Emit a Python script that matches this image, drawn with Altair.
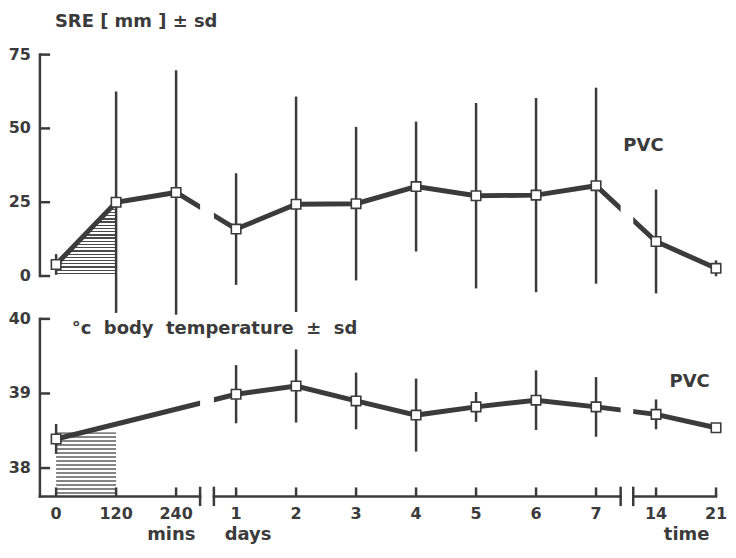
import altair as alt
import pandas as pd

# ---------------- data ----------------
time_labels = ["0", "120", "240", "1", "2", "3", "4", "5", "6", "7", "14", "21"]
sre_mean = [3.9, 25.0, 28.3, 15.9, 24.3, 24.5, 30.3, 27.2, 27.4, 30.6, 11.7, 2.6]
sre_sd = [3.5, 37.5, 41.4, 18.9, 36.5, 26.0, 22.0, 31.4, 32.9, 33.2, 17.6, 2.7]
temp_mean = [38.39, None, None, 38.99, 39.10, 38.90, 38.71, 38.82, 38.91, 38.82, 38.72, 38.54]
temp_sd = [0.20, None, None, 0.39, 0.49, 0.38, 0.49, 0.20, 0.40, 0.40, 0.20, 0.0]
sre_ticks = [0, 25, 50, 75]
temp_ticks = [38, 39, 40]
break_from = [2.40, 9.41]
break_to = [2.63, 9.62]
hatch_temp_top = 38.48

# ---------------- styling / layout constants ----------------
INK = "#3b3b3b"
FONT = "DejaVu Sans"
NB = "\u00a0"
X_MIN, X_MAX = -0.27, 11
SRE_DOM = [0, 75]
TEMP_DOM = [37.62, 40]
W = 678
H_TOP, H_BOT = 222, 178

positions = list(range(len(time_labels)))
df = pd.DataFrame({"pos": positions, "sre": sre_mean, "sd": sre_sd})
df["lo"] = df["sre"] - df["sd"]
df["hi"] = df["sre"] + df["sd"]

dft = pd.DataFrame({"pos": positions, "temp": temp_mean, "sd": temp_sd}).dropna()
dft["lo"] = dft["temp"] - dft["sd"]
dft["hi"] = dft["temp"] + dft["sd"]

seg_df = pd.DataFrame({"x": [X_MIN] + break_to, "x2": break_from + [X_MAX]})
brk_df = pd.DataFrame({"x": break_from, "x2": break_to})
brk_edges = pd.DataFrame({"x": break_from + break_to})
one = pd.DataFrame({"k": [0]})
pos_df = pd.DataFrame({"pos": positions, "label": time_labels})

xscale = alt.Scale(domain=[X_MIN, X_MAX], nice=False, zero=False)
ys_top = alt.Scale(domain=SRE_DOM, nice=False, zero=False)
ys_bot = alt.Scale(domain=TEMP_DOM, nice=False, zero=False)


def stripes(n, frac, ink):
    stops = []
    for i in range(n):
        a, b, c = i / n, (i + frac) / n, (i + 1) / n
        stops += [
            alt.GradientStop(offset=a, color=ink),
            alt.GradientStop(offset=b, color=ink),
            alt.GradientStop(offset=b, color="white"),
            alt.GradientStop(offset=min(c, 1.0), color="white"),
        ]
    return alt.Gradient(gradient="linear", stops=stops, x1=0, x2=0, y1=0, y2=1)


def xd(v):
    return alt.XDatum(datum=v, scale=xscale, axis=None)


def yd(v, sc):
    return alt.YDatum(datum=v, scale=sc, axis=None)


def xf(field="pos"):
    return alt.X(f"{field}:Q", scale=xscale, axis=None)


def yf(field, sc):
    return alt.Y(f"{field}:Q", scale=sc, axis=None)


def label(text, x, y, sc, align="left", size=18):
    return alt.Chart(pd.DataFrame({"t": [text]})).mark_text(
        font=FONT, fontWeight="bold", fontSize=size, color=INK,
        align=align, baseline="alphabetic"
    ).encode(text="t:N", x=xd(x), y=yd(y, sc))


def ylabels(ticks, sc):
    return alt.Chart(pd.DataFrame({"v": ticks})).mark_text(
        font=FONT, fontWeight="bold", fontSize=16, color=INK,
        align="right", baseline="middle", dx=-9
    ).encode(text="v:Q", x=xd(X_MIN), y=yf("v", sc))


tick_len = 0.17  # data units along x (inward ticks)

# ---------------- top panel: SRE ----------------
top_hatch = alt.Chart(df).transform_filter("datum.pos <= 1").mark_area(
    fill=stripes(23, 0.4, "#4a4a4a"), strokeWidth=0
).encode(x=xf(), y=yf("sre", ys_top), y2=alt.Y2Datum(datum=0))

top_line = alt.Chart(df).mark_line(color=INK, strokeWidth=5).encode(
    x=xf(), y=yf("sre", ys_top))

top_mask = alt.Chart(brk_df).mark_rect(color="white").encode(
    x=xf("x"), x2="x2:Q", y=yd(SRE_DOM[0], ys_top), y2=alt.Y2Datum(datum=SRE_DOM[1]))

top_err = alt.Chart(df).mark_rule(color=INK, strokeWidth=2.5).encode(
    x=xf(), y=yf("lo", ys_top), y2="hi:Q")

top_pts = alt.Chart(df).mark_point(
    shape="square", filled=True, fill="white", stroke=INK, strokeWidth=1.6,
    size=90, opacity=1
).encode(x=xf(), y=yf("sre", ys_top))

top_yline = alt.Chart(one).mark_rule(color=INK, strokeWidth=2.5, strokeCap="square").encode(
    x=xd(X_MIN), y=yd(SRE_DOM[0], ys_top), y2=alt.Y2Datum(datum=SRE_DOM[1]))

top_yticks = alt.Chart(pd.DataFrame({"v": sre_ticks})).mark_rule(
    color=INK, strokeWidth=2.5).encode(
    x=xd(X_MIN), x2=alt.X2Datum(datum=X_MIN + tick_len), y=yf("v", ys_top))

top = alt.layer(
    top_hatch, top_line, top_mask, top_err, top_pts, top_yline, top_yticks,
    ylabels(sre_ticks, ys_top),
    label("SRE [ mm ] ± sd", -0.02, 84.5, ys_top),
    label("PVC", 9.79, 42.4, ys_top, align="center"),
).properties(width=W, height=H_TOP)

# ---------------- bottom panel: temperature ----------------
ymin = TEMP_DOM[0]

bot_hatch = alt.Chart(one).mark_rect(fill=stripes(16, 0.35, "#858585")).encode(
    x=xd(0), x2=alt.X2Datum(datum=1), y=yd(ymin, ys_bot), y2=alt.Y2Datum(datum=hatch_temp_top))

bot_line = alt.Chart(dft).mark_line(color=INK, strokeWidth=5).encode(
    x=xf(), y=yf("temp", ys_bot))

bot_mask = alt.Chart(brk_df).mark_rect(color="white").encode(
    x=xf("x"), x2="x2:Q", y=yd(ymin, ys_bot), y2=alt.Y2Datum(datum=TEMP_DOM[1]))

bot_err = alt.Chart(dft).mark_rule(color=INK, strokeWidth=2.5).encode(
    x=xf(), y=yf("lo", ys_bot), y2="hi:Q")

bot_pts = alt.Chart(dft).mark_point(
    shape="square", filled=True, fill="white", stroke=INK, strokeWidth=1.6,
    size=90, opacity=1
).encode(x=xf(), y=yf("temp", ys_bot))

bot_yline = alt.Chart(one).mark_rule(color=INK, strokeWidth=2.5, strokeCap="square").encode(
    x=xd(X_MIN), y=yd(ymin, ys_bot), y2=alt.Y2Datum(datum=TEMP_DOM[1]))

bot_yticks = alt.Chart(pd.DataFrame({"v": temp_ticks})).mark_rule(
    color=INK, strokeWidth=2.5).encode(
    x=xd(X_MIN), x2=alt.X2Datum(datum=X_MIN + tick_len), y=yf("v", ys_bot))

bot_xsegs = alt.Chart(seg_df).mark_rule(color=INK, strokeWidth=2.5, strokeCap="square").encode(
    x=xf("x"), x2="x2:Q", y=yd(ymin, ys_bot))

bot_xticks = alt.Chart(pos_df).mark_rule(color=INK, strokeWidth=2.5).encode(
    x=xf(), y=yd(ymin, ys_bot), y2=alt.Y2Datum(datum=ymin + 0.12))

bot_xlabels = alt.Chart(pos_df).mark_text(
    font=FONT, fontWeight="bold", fontSize=16, color=INK,
    align="center", baseline="top", dy=10
).encode(text="label:N", x=xf(), y=yd(ymin, ys_bot))

bot_brk = alt.Chart(brk_edges).mark_rule(color=INK, strokeWidth=2.5).encode(
    x=xf("x"), y=yd(ymin - 0.13, ys_bot), y2=alt.Y2Datum(datum=ymin + 0.13))

bottom = alt.layer(
    bot_hatch, bot_line, bot_mask, bot_err, bot_pts,
    bot_yline, bot_yticks, bot_xsegs, bot_xticks, bot_brk,
    ylabels(temp_ticks, ys_bot), bot_xlabels,
    label(f"°c{NB} body{NB} temperature{NB} ±{NB} sd", 0.26, 39.80, ys_bot),
    label("PVC", 10.56, 39.085, ys_bot, align="center"),
    label("mins", 1.92, 37.033, ys_bot, align="center"),
    label("days", 3.20, 37.033, ys_bot, align="center"),
    label("time", 10.51, 37.033, ys_bot, align="center"),
).properties(width=W, height=H_BOT)

chart = alt.vconcat(
    top, bottom, spacing=43, bounds="flush",
    padding={"top": 3, "left": 0, "right": 0, "bottom": 0}
).configure_view(stroke=None)

chart.save("out.html", embed_options={"renderer": "svg", "actions": False})
